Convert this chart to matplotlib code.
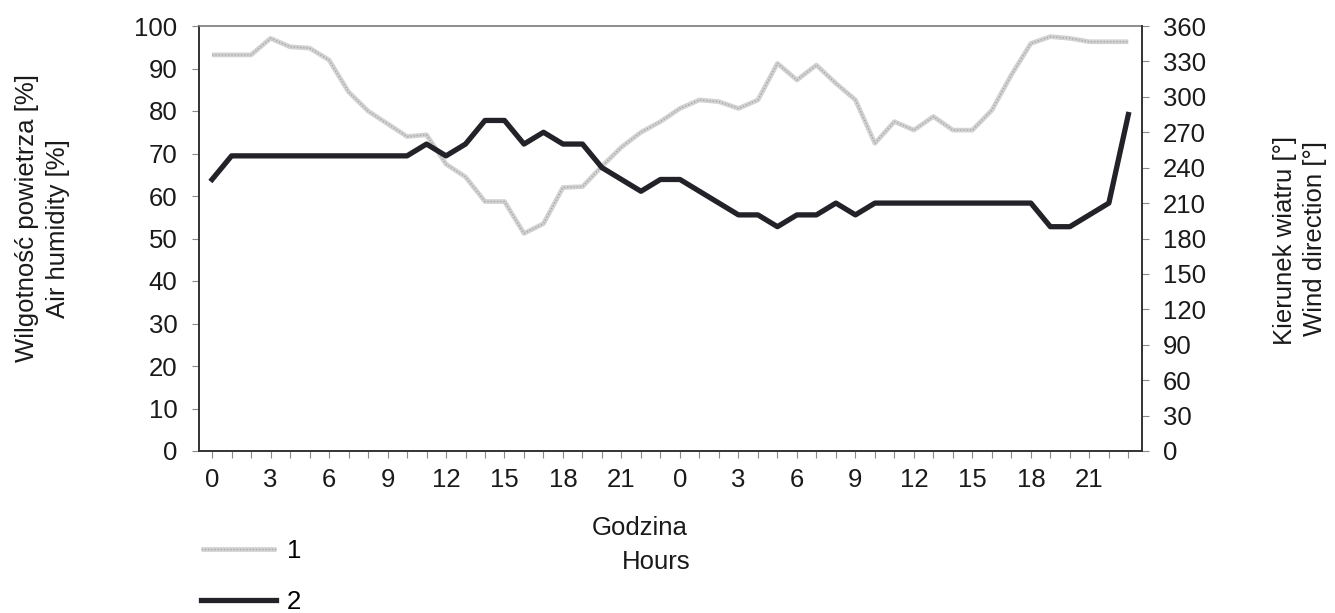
import numpy as np
import matplotlib
matplotlib.use('Agg')
import matplotlib.pyplot as plt
from matplotlib.legend_handler import HandlerTuple

# ---- data -------------------------------------------------------------
hours = list(range(48))
hour_labels = [str(h % 24) if h % 3 == 0 else '' for h in hours]

humidity = [93.2, 93.2, 93.2, 97.1, 95.1, 94.8, 92.0, 84.5, 80.0, 77.0,
            74.0, 74.4, 67.5, 64.5, 58.7, 58.7, 51.2, 53.5, 62.0, 62.2,
            67.0, 71.5, 75.0, 77.5, 80.6, 82.6, 82.2, 80.6, 82.6, 91.2,
            87.3, 90.8, 86.5, 82.6, 72.4, 77.5, 75.5, 78.7, 75.5, 75.5,
            80.2, 88.5, 95.9, 97.5, 97.1, 96.3, 96.3, 96.3]

wind_direction = [230, 250, 250, 250, 250, 250, 250, 250, 250, 250,
                  250, 260, 250, 260, 280, 280, 260, 270, 260, 260,
                  240, 230, 220, 230, 230, 220, 210, 200, 200, 190,
                  200, 200, 210, 200, 210, 210, 210, 210, 210, 210,
                  210, 210, 210, 190, 190, 200, 210, 285]

humidity_ticks = list(range(0, 101, 10))
wind_ticks = list(range(0, 361, 30))
series_labels = ['1', '2']

# ---- style ------------------------------------------------------------
plt.rcParams['font.family'] = ['Liberation Sans', 'DejaVu Sans']
FS = 18.5
TXT = '#1a1a1a'
W, H = 1335, 613

fig = plt.figure(figsize=(W / 100, H / 100), dpi=100)
L, R, T, B = 199, 1142, 26, 451
ax = fig.add_axes([L / W, 1 - B / H, (R - L) / W, (B - T) / H])
ax2 = ax.twinx()

# humidity (series 1): light grey textured line
g1, = ax.plot(hours, humidity, color='#d2d2d2', lw=3.4, solid_capstyle='butt', zorder=2)
g2, = ax.plot(hours, humidity, color='#a8a8a8', lw=1.0, ls=(0, (1, 1.3)), zorder=3)

# wind direction (series 2): thick black line
b, = ax2.plot(hours, wind_direction, color='#222228', lw=3.8, zorder=4)

ax.set_xlim(-0.67, 47.7)
ax.set_ylim(0, 100)
ax2.set_ylim(0, 360)

ax.set_xticks(hours)
ax.set_xticklabels(hour_labels, fontsize=FS)
ax.set_yticks(humidity_ticks)
ax.set_yticklabels([str(v) for v in humidity_ticks], fontsize=FS)
ax2.set_yticks(wind_ticks)
ax2.set_yticklabels([str(v) for v in wind_ticks], fontsize=FS)

ax.tick_params(axis='x', direction='out', length=5, width=0.8, color='#888888', pad=7.5,
               labelcolor=TXT)
ax.tick_params(axis='y', direction='out', length=5, width=0.8, color='#888888', pad=10.5,
               labelcolor=TXT)
ax2.tick_params(axis='y', direction='out', length=5, width=0.8, color='#888888', pad=10,
                labelcolor=TXT)

for sp in ['left', 'bottom']:
    ax.spines[sp].set_color('#333333')
    ax.spines[sp].set_linewidth(1.4)
ax.spines['top'].set_color('#7a7a7a')
ax.spines['top'].set_linewidth(1.2)
ax.spines['right'].set_visible(False)
for sp in ['top', 'left', 'bottom']:
    ax2.spines[sp].set_visible(False)
ax2.spines['right'].set_color('#333333')
ax2.spines['right'].set_linewidth(1.4)

# axis titles
fig.text(27 / W, 1 - 218 / H, 'Wilgotność powietrza [%]', rotation=90, fontsize=FS,
         ha='center', va='center', color=TXT)
fig.text(58 / W, 1 - 229 / H, 'Air humidity [%]', rotation=90, fontsize=FS,
         ha='center', va='center', color=TXT)
fig.text(1285 / W, 1 - 240 / H, 'Kierunek wiatru [°]', rotation=90, fontsize=FS,
         ha='center', va='center', color=TXT)
fig.text(1315 / W, 1 - 238 / H, 'Wind direction [°]', rotation=90, fontsize=FS,
         ha='center', va='center', color=TXT)
fig.text(640 / W, 1 - 528 / H, 'Godzina', fontsize=FS, ha='center', va='center',
         color=TXT)
fig.text(656 / W, 1 - 562 / H, 'Hours', fontsize=FS, ha='center', va='center',
         color=TXT)

# legend
fig.legend(handles=[(g1, g2), b], labels=series_labels,
           handler_map={tuple: HandlerTuple(ndivide=1, pad=0)},
           loc='upper left', bbox_to_anchor=(178 / W, 1 - 516 / H),
           frameon=False, fontsize=FS, handlelength=2.9, handletextpad=0.45,
           labelspacing=1.05, borderpad=0.4)

fig.savefig('out.png', dpi=100)
